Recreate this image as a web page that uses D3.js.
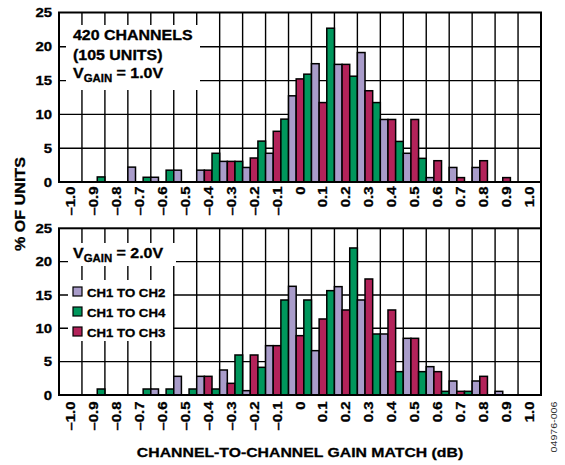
<!DOCTYPE html>
<html><head><meta charset="utf-8">
<script src="https://cdn.jsdelivr.net/npm/d3@7"></script>
<style>
body{margin:0;background:#fff}
svg text{font-family:"Liberation Sans",Arial,Helvetica,sans-serif;font-weight:bold;fill:#000;stroke:#000;stroke-width:0.3px}
</style>
</head><body>
<svg id="chart" width="565" height="465"></svg>
<script>
// ---------- data ----------
const categories = ["–1.0","–0.9","–0.8","–0.7","–0.6","–0.5","–0.4","–0.3","–0.2","–0.1","0",
                    "0.1","0.2","0.3","0.4","0.5","0.6","0.7","0.8","0.9","1.0"];
const seriesNames = ["CH1 TO CH2","CH1 TO CH3","CH1 TO CH4"];   // order within each group
const legendOrder = ["CH1 TO CH2","CH1 TO CH4","CH1 TO CH3"];
const seriesColors = ["#a99cca","#b3235a","#00975c"];
const yTicks = [0,5,10,15,20,25];

// V_GAIN = 1.0V  (% of units)
const g1_ch2 = [0,0,0,2.2,0.7,1.75,1.75,3.05,2.15,4.25,12.75,17.5,17.4,19.15,9.25,4.25,0.65,2.15,2.15,0,0];
const g1_ch3 = [0,0,0,0,0,0,1.75,3.05,3.55,7.5,15.25,11.75,17.4,13.5,9.25,9.25,3.15,0.65,3.15,0.65,0];
const g1_ch4 = [0,0.75,0,0.7,1.75,0,4.25,3.05,6.05,9.3,15.95,22.75,15.65,11.75,6.0,3.5,0,0,0,0,0];
// V_GAIN = 2.0V
const g2_ch2 = [0,0,0,0,0.9,2.8,2.8,3.75,0.65,7.4,16.3,6.65,16.25,14.25,9.15,8.5,4.25,2.1,2.1,0.55,0];
const g2_ch3 = [0,0,0,0,0,0,2.8,1.75,6.0,7.4,8.9,11.4,12.75,17.4,12.75,8.5,3.5,0.55,2.8,0,0];
const g2_ch4 = [0,0.9,0,0.9,0.9,0.9,0.9,6.0,4.15,14.25,14.25,15.65,22.05,9.15,3.5,3.5,0.55,0.55,0,0,0];

// ---------- layout ----------
const svg = d3.select("#chart");
const L = 59, R = 541;
const panels = [
  {top:12.5, y0:182, y25:13, data:[g1_ch2,g1_ch3,g1_ch4], labY:186.5},
  {top:228.3, y0:395, y25:228.3, data:[g2_ch2,g2_ch3,g2_ch4], labY:401.5}
];
const x = d3.scaleBand().domain(categories).range([L,R]).padding(0);
const xs = d3.scaleBand().domain(seriesNames).range([0,x.bandwidth()]).padding(0);
const color = d3.scaleOrdinal().domain(seriesNames).range(seriesColors);

function stext(parent, px, py, rot, str, size, anchor, sx, extra){
  const t = parent.append("text")
    .attr("transform",`translate(${px},${py}) rotate(${rot}) scale(${sx},1)`)
    .attr("text-anchor",anchor)
    .style("font-size",size+"px");
  if(str!==null) t.text(str);
  if(extra) extra(t);
  return t;
}

panels.forEach((p,pi)=>{
  const y = d3.scaleLinear().domain([0,25]).range([p.y0,p.y25]);
  const g = svg.append("g");
  // horizontal grid
  g.selectAll("line.h").data(yTicks.filter(d=>d>0&&d<25)).enter().append("line")
    .attr("x1",L).attr("x2",R).attr("y1",d=>y(d)).attr("y2",d=>y(d))
    .attr("stroke","#000").attr("stroke-width",1.4);
  // vertical grid at band boundaries
  g.selectAll("line.v").data(categories.slice(1)).enter().append("line")
    .attr("x1",d=>x(d)).attr("x2",d=>x(d)).attr("y1",p.top).attr("y2",p.y0)
    .attr("stroke","#000").attr("stroke-width",1.4);

  // white annotation boxes
  if(pi===0){
    g.append("rect").attr("x",66).attr("y",25).attr("width",134).attr("height",65).attr("fill","#fff");
  } else {
    g.append("rect").attr("x",68).attr("y",243).attr("width",108).attr("height",23).attr("fill","#fff");
    g.append("rect").attr("x",68).attr("y",280).attr("width",105).attr("height",61).attr("fill","#fff");
  }

  // bars
  const rows = [];
  categories.forEach((c,i)=>seriesNames.forEach((s,si)=>{
    const v = p.data[si][i];
    if(v>0) rows.push({c,s,v});
  }));
  g.selectAll("rect.bar").data(rows).enter().append("rect")
    .attr("x",d=>x(d.c)+xs(d.s)).attr("width",xs.bandwidth())
    .attr("y",d=>y(d.v)).attr("height",d=>p.y0-y(d.v))
    .attr("fill",d=>color(d.s)).attr("stroke","#000").attr("stroke-width",1.5);

  // frame
  g.append("rect").attr("x",L).attr("y",p.top).attr("width",R-L).attr("height",p.y0-p.top)
    .attr("fill","none").attr("stroke","#000").attr("stroke-width",2);

  // y tick labels
  yTicks.forEach(t=>{
    const yy = (t===25)? p.top : y(t);
    stext(g, 52, yy+4.6, 0, String(t), 13, "end", 1.15);
  });
  // x tick labels
  categories.forEach(c=>{
    stext(g, x(c)+x.bandwidth()/2+4.5, p.labY, -90, c, 13, "end", 1.15);
  });
});

// right border continuous between panels
svg.append("line").attr("x1",R).attr("x2",R).attr("y1",12.5).attr("y2",395)
  .attr("stroke","#000").attr("stroke-width",2);

// annotations top panel
stext(svg, 73, 39.5, 0, "420 CHANNELS", 14, "start", 1.14);
stext(svg, 73, 59.5, 0, "(105 UNITS)", 14, "start", 1.14);
function vgain(px, py, val){
  stext(svg, px, py, 0, null, 14, "start", 1.14, t=>{
    t.append("tspan").text("V");
    t.append("tspan").attr("dy",4.5).style("font-size","10px").text("GAIN");
    t.append("tspan").attr("dy",-4.5).text(" = " + val);
  });
}
vgain(73, 77.5, "1.0V");
vgain(73, 257.5, "2.0V");

// legend
legendOrder.forEach((s,i)=>{
  const yy = 287 + i*20;
  svg.append("rect").attr("x",73).attr("y",yy).attr("width",9).attr("height",9)
    .attr("fill",color(s)).attr("stroke","#000").attr("stroke-width",1.2);
  stext(svg, 87, yy+9.5, 0, s, 11.8, "start", 1.12);
});

// axis titles
stext(svg, 24.5, 204, -90, "% OF UNITS", 14, "middle", 1.15);
stext(svg, 300, 457, 0, "CHANNEL-TO-CHANNEL GAIN MATCH (dB)", 13.5, "middle", 1.17);
stext(svg, 557, 427, -90, "04976-006", 9.5, "middle", 1.12)
  .style("font-weight","normal").style("fill","#333").style("stroke","none");
</script>
</body></html>
